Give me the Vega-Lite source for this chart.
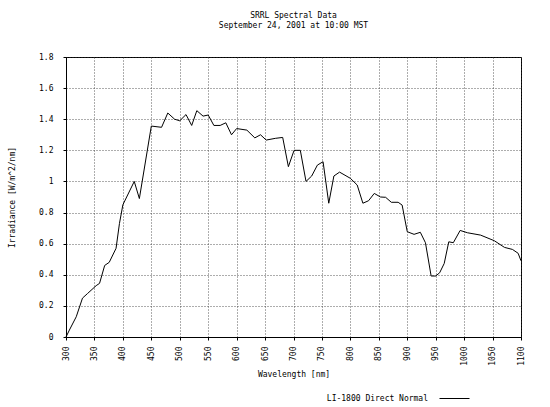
{
  "$schema": "https://vega.github.io/schema/vega-lite/v6.json",
  "width": 455,
  "height": 280,
  "autosize": "none",
  "padding": {"left": 66, "top": 57, "right": 29, "bottom": 70},
  "background": "white",
  "title": {
    "text": ["SRRL Spectral Data", "September 24, 2001 at 10:00 MST"],
    "font": "DejaVu Sans Mono",
    "fontSize": 8,
    "fontWeight": "normal",
    "color": "black",
    "anchor": "middle",
    "lineHeight": 10,
    "offset": 23
  },
  "config": {
    "view": {"stroke": "black", "strokeWidth": 1},
    "axis": {
      "labelFont": "DejaVu Sans Mono",
      "labelFontSize": 8,
      "labelColor": "black",
      "titleFont": "DejaVu Sans Mono",
      "titleFontSize": 8,
      "titleFontWeight": "normal",
      "titleColor": "black",
      "domainColor": "black",
      "tickColor": "black",
      "gridColor": "#333333",
      "gridDash": [1, 2],
      "gridOpacity": 0.8,
      "gridWidth": 1
    },
    "legend": {
      "labelFont": "DejaVu Sans Mono",
      "labelFontSize": 8,
      "labelColor": "black"
    }
  },
  "data": {
    "values": [
      {"wavelength": 300, "irradiance": 0.0},
      {"wavelength": 306, "irradiance": 0.045},
      {"wavelength": 318, "irradiance": 0.13},
      {"wavelength": 329, "irradiance": 0.25},
      {"wavelength": 338, "irradiance": 0.28},
      {"wavelength": 353, "irradiance": 0.33},
      {"wavelength": 359, "irradiance": 0.345},
      {"wavelength": 368, "irradiance": 0.46},
      {"wavelength": 376, "irradiance": 0.48},
      {"wavelength": 388, "irradiance": 0.57},
      {"wavelength": 394, "irradiance": 0.73},
      {"wavelength": 400, "irradiance": 0.85},
      {"wavelength": 420, "irradiance": 1.0},
      {"wavelength": 429, "irradiance": 0.89},
      {"wavelength": 450, "irradiance": 1.356},
      {"wavelength": 468, "irradiance": 1.348},
      {"wavelength": 479, "irradiance": 1.44},
      {"wavelength": 491, "irradiance": 1.40},
      {"wavelength": 500, "irradiance": 1.39},
      {"wavelength": 511, "irradiance": 1.43},
      {"wavelength": 521, "irradiance": 1.36},
      {"wavelength": 530, "irradiance": 1.455},
      {"wavelength": 541, "irradiance": 1.42},
      {"wavelength": 550, "irradiance": 1.427},
      {"wavelength": 560, "irradiance": 1.36},
      {"wavelength": 571, "irradiance": 1.36},
      {"wavelength": 581, "irradiance": 1.377},
      {"wavelength": 591, "irradiance": 1.30},
      {"wavelength": 600, "irradiance": 1.34},
      {"wavelength": 618, "irradiance": 1.33},
      {"wavelength": 632, "irradiance": 1.28},
      {"wavelength": 642, "irradiance": 1.30},
      {"wavelength": 652, "irradiance": 1.266},
      {"wavelength": 668, "irradiance": 1.277},
      {"wavelength": 681, "irradiance": 1.283},
      {"wavelength": 691, "irradiance": 1.095},
      {"wavelength": 701, "irradiance": 1.20},
      {"wavelength": 712, "irradiance": 1.20},
      {"wavelength": 722, "irradiance": 1.0},
      {"wavelength": 732, "irradiance": 1.035},
      {"wavelength": 742, "irradiance": 1.105},
      {"wavelength": 752, "irradiance": 1.127},
      {"wavelength": 762, "irradiance": 0.86},
      {"wavelength": 771, "irradiance": 1.035},
      {"wavelength": 781, "irradiance": 1.06},
      {"wavelength": 800, "irradiance": 1.02},
      {"wavelength": 812, "irradiance": 0.977},
      {"wavelength": 822, "irradiance": 0.86},
      {"wavelength": 832, "irradiance": 0.876},
      {"wavelength": 842, "irradiance": 0.923},
      {"wavelength": 853, "irradiance": 0.9},
      {"wavelength": 862, "irradiance": 0.898},
      {"wavelength": 872, "irradiance": 0.866},
      {"wavelength": 884, "irradiance": 0.866},
      {"wavelength": 891, "irradiance": 0.848},
      {"wavelength": 900, "irradiance": 0.677},
      {"wavelength": 912, "irradiance": 0.66},
      {"wavelength": 923, "irradiance": 0.673},
      {"wavelength": 932, "irradiance": 0.606},
      {"wavelength": 942, "irradiance": 0.392},
      {"wavelength": 950, "irradiance": 0.392},
      {"wavelength": 957, "irradiance": 0.413},
      {"wavelength": 965, "irradiance": 0.473},
      {"wavelength": 973, "irradiance": 0.612},
      {"wavelength": 981, "irradiance": 0.606},
      {"wavelength": 993, "irradiance": 0.685},
      {"wavelength": 1006, "irradiance": 0.67},
      {"wavelength": 1029, "irradiance": 0.655},
      {"wavelength": 1053, "irradiance": 0.619},
      {"wavelength": 1071, "irradiance": 0.576},
      {"wavelength": 1085, "irradiance": 0.563},
      {"wavelength": 1095, "irradiance": 0.538},
      {"wavelength": 1100, "irradiance": 0.49}
    ]
  },
  "mark": {"type": "line", "strokeWidth": 1, "interpolate": "linear"},
  "encoding": {
    "x": {
      "field": "wavelength",
      "type": "quantitative",
      "scale": {"domain": [300, 1100], "nice": false, "zero": false},
      "axis": {
        "values": [300, 350, 400, 450, 500, 550, 600, 650, 700, 750, 800, 850, 900, 950, 1000, 1050, 1100],
        "format": "d",
        "labelAngle": -90,
        "labelAlign": "right",
        "labelBaseline": "middle",
        "labelPadding": 6,
        "tickSize": 3,
        "title": "Wavelength [nm]",
        "titlePadding": 5,
        "labelFlush": false,
        "labelOverlap": false
      }
    },
    "y": {
      "field": "irradiance",
      "type": "quantitative",
      "scale": {"domain": [0, 1.8], "nice": false},
      "axis": {
        "values": [0, 0.2, 0.4, 0.6, 0.8, 1, 1.2, 1.4, 1.6, 1.8],
        "format": ".1~f",
        "tickSize": 3,
        "labelPadding": 10,
        "title": "Irradiance [W/m^2/nm]",
        "titlePadding": 22,
        "labelFlush": false,
        "labelOverlap": false
      }
    },
    "color": {
      "datum": "LI-1800 Direct Normal",
      "type": "nominal",
      "scale": {"range": ["black"]},
      "legend": {
        "title": null,
        "orient": "none",
        "legendX": 373,
        "legendY": 326,
        "symbolType": "stroke",
        "symbolSize": 900,
        "symbolStrokeWidth": 1,
        "labelAlign": "right",
        "labelOffset": -42
      }
    }
  }
}
